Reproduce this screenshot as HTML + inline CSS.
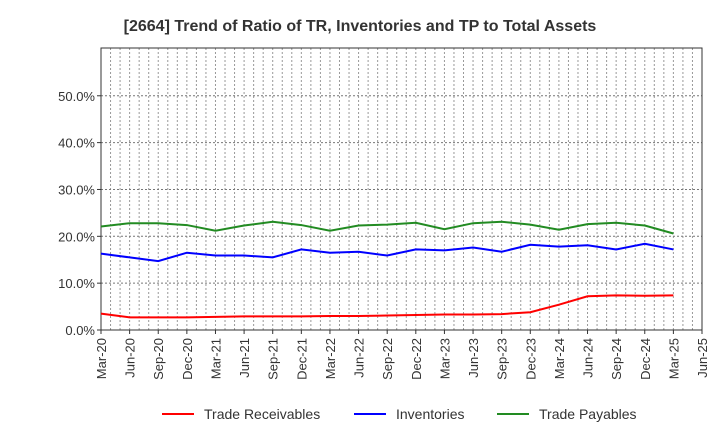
<!DOCTYPE html>
<html><head><meta charset="utf-8"><style>
body{margin:0;background:#fff;font-family:"Liberation Sans",sans-serif}
svg text{font-family:"Liberation Sans",sans-serif}
</style></head><body>
<svg id="chart" width="720" height="440" xmlns="http://www.w3.org/2000/svg">
<text x="360" y="31" text-anchor="middle" font-size="16" font-weight="bold" fill="#333">[2664]  Trend of Ratio of TR, Inventories and TP to Total Assets</text>
<g id="grid"></g><g id="axes"></g><g id="series"></g>
<g id="legend"></g>
</svg>
<script>
const xLabels=["Mar-20","Jun-20","Sep-20","Dec-20","Mar-21","Jun-21","Sep-21","Dec-21","Mar-22","Jun-22","Sep-22","Dec-22","Mar-23","Jun-23","Sep-23","Dec-23","Mar-24","Jun-24","Sep-24","Dec-24","Mar-25","Jun-25"];
const yTicks=[0,10,20,30,40,50];
const tradeReceivables=[3.5,2.7,2.7,2.7,2.8,2.9,2.9,2.9,3.0,3.0,3.1,3.2,3.3,3.3,3.4,3.8,5.4,7.2,7.4,7.3,7.4];
const inventories=[16.3,15.5,14.7,16.5,15.9,15.9,15.5,17.2,16.5,16.7,15.9,17.2,17.0,17.6,16.7,18.2,17.8,18.1,17.2,18.4,17.2];
const tradePayables=[22.1,22.8,22.8,22.4,21.2,22.3,23.1,22.4,21.2,22.3,22.5,22.9,21.5,22.8,23.1,22.5,21.4,22.6,22.9,22.3,20.6];
const L=101,R=702,T=48,B=330,yMax=60.2;
const step=(R-L)/(xLabels.length-1);
const X=i=>L+i*step;
const Y=v=>B-v/yMax*(B-T);
const NS="http://www.w3.org/2000/svg";
function mk(tag,attrs,parent){const e=document.createElementNS(NS,tag);for(const k in attrs)e.setAttribute(k,attrs[k]);parent.appendChild(e);return e;}
const grid=document.getElementById('grid'),axes=document.getElementById('axes'),ser=document.getElementById('series'),leg=document.getElementById('legend');
for(let m=1;m<(xLabels.length-1)*3;m++){const x=L+m*step/3;
 const g=mk('line',{x1:x,x2:x,y1:T,y2:B,stroke:'#999','stroke-dasharray':'2,2','stroke-width':1},grid);
 
 }
yTicks.forEach(v=>{if(v>0){const g=mk('line',{x1:L,x2:R,y1:Y(v),y2:Y(v),stroke:'#777','stroke-dasharray':'2,2','stroke-width':1},grid);
 
 }
 const t=mk('text',{x:L-6,y:Y(v)+5,'text-anchor':'end','font-size':13,fill:'#333'},axes);t.textContent=v.toFixed(1)+'%';
 
 
 mk('line',{x1:L-4,x2:L,y1:Y(v),y2:Y(v),stroke:'#333'},axes);});
xLabels.forEach((s,i)=>{const x=X(i);mk('line',{x1:x,x2:x,y1:B,y2:B+4,stroke:'#333'},axes);
 const t=mk('text',{transform:`translate(${x+5},${B+8}) rotate(-90)`,'text-anchor':'end','font-size':13,fill:'#333'},axes);t.textContent=s;
 
 });
const frame=mk('rect',{x:L,y:T,width:R-L,height:B-T,fill:'none',stroke:'#333','stroke-width':1},axes);


const S=[[tradeReceivables,'#ff0000','Trade Receivables','trade-receivables-line'],[inventories,'#0000ff','Inventories','inventories-line'],[tradePayables,'#228b22','Trade Payables','trade-payables-line']];
S.forEach(([d,c,n,id])=>{const p=mk('polyline',{points:d.map((v,i)=>X(i)+','+Y(v)).join(' '),fill:'none',stroke:c,'stroke-width':2},ser);
 
 });
const lx=[162,354,497];
S.forEach(([d,c,n],i)=>{const g=mk('g',{},leg);
 
 
 mk('line',{x1:lx[i],x2:lx[i]+32,y1:414,y2:414,stroke:c,'stroke-width':2},g);
 const t=mk('text',{x:lx[i]+42,y:419,'font-size':14,fill:'#333'},g);t.textContent=n;});
</script>
</body></html>
